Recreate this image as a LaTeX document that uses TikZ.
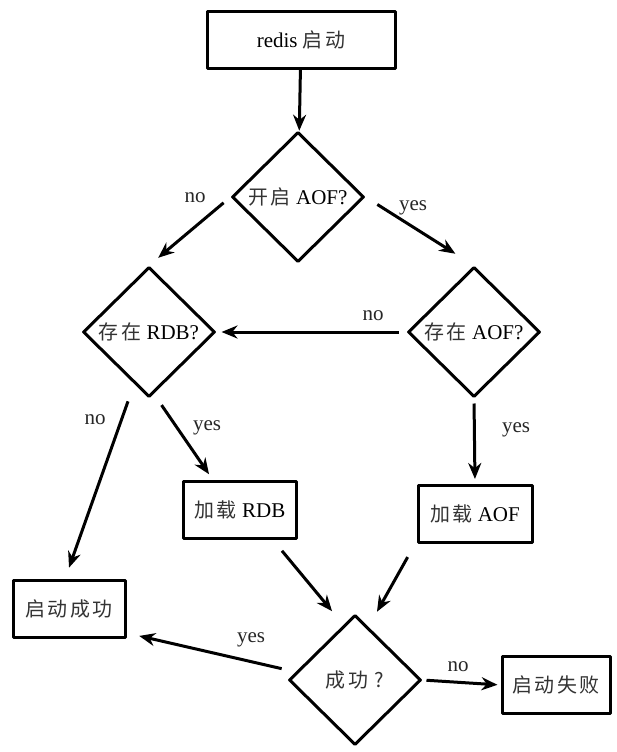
\documentclass[tikz,border=0pt]{standalone}
\usepackage{fontspec}
\setmainfont{Liberation Serif}
\newfontfamily\cjk[Scale=0.95,LetterSpace=12]{Noto Sans CJK SC}
\usepackage{tikz}
\usetikzlibrary{shapes.geometric}
\usetikzlibrary{arrows.meta}
\newcommand{\zh}[1]{{\cjk\color{black!80}#1}}

\tikzset{
  box/.style={draw, line width=3pt, minimum width=#1, minimum height=57pt, inner sep=0pt},
  box/.default=112pt,
  decision/.style={diamond, draw, line width=3pt, minimum width=132pt, minimum height=130pt, inner sep=0pt},
  flow/.style={->, line width=3pt},
  lbl/.style={inner sep=0pt, text=black!85}
}

\begin{document}
\begin{tikzpicture}[x=1pt,y=-1pt,
    font=\fontsize{21}{25}\selectfont,
    >={Stealth[length=16pt,width=13pt]},
    line join=round]
       \useasboundingbox (0,0) rectangle (617,752);
       % nodes
       \node[box=188pt] (start) at (301,40) {redis \zh{启动}};
       \node[decision] (aof) at (298,197) {\zh{开启} AOF?};
       \node[decision] (hasrdb) at (149,332) {\zh{存在} RDB?};
       \node[decision] (hasaof) at (474,332) {\zh{存在} AOF?};
       \node[box=113pt] (loadrdb) at (240,510) {\zh{加载} RDB};
       \node[box=114pt] (loadaof) at (475,514) {\zh{加载} AOF};
       \node[box=112pt] (ok) at (69,609) {\zh{启动成功}};
       \node[decision] (done) at (355,680) {\zh{成功 ?}};
       \node[box=108pt] (fail) at (556,685) {\zh{启动失败}};
       % connectors
       \draw[flow,shorten >=1pt] (start) -- (aof);
       \draw[flow,shorten <=9pt,shorten >=12pt] (aof.west) -- (hasrdb.north);
       \draw[flow,shorten <=14pt,shorten >=22pt] (aof.east) -- (hasaof.north);
       \draw[flow,shorten <=8pt,shorten >=5pt] (hasaof.west) -- (hasrdb.east);
       \draw[flow,shorten <=3pt,shorten >=12pt] ([xshift=-20pt]hasrdb.south) -- ([xshift=-4pt]ok.north);
       \draw[flow,shorten <=8pt,shorten >=7pt] ([xshift=8pt]hasrdb.south) -- ([xshift=-27pt]loadrdb.north);
       \draw[flow,shorten <=5pt,shorten >=5pt] (hasaof.south) -- (loadaof.north);
       \draw[flow,shorten <=14pt,shorten >=3pt] ([xshift=33pt]loadrdb.south) -- ([xshift=-21pt]done.north);
       \draw[flow,shorten <=15pt,shorten >=2pt] ([xshift=-60pt]loadaof.south) -- ([xshift=21pt]done.north);
       \draw[flow,shorten <=6pt,shorten >=13pt] ([yshift=10pt]done.west) -- ([yshift=6pt]ok.south east);
       \draw[flow,shorten <=4pt,shorten >=3pt] (done.east) -- (fail.west);
       % labels
       \node[lbl] (no1) at (195,198) {no};
       \node[lbl] (yes1) at (413,208) {yes};
       \node[lbl] (no2) at (373,316) {no};
       \node[lbl] (no3) at (95,420) {no};
       \node[lbl] (yes2) at (207,428) {yes};
       \node[lbl] (yes3) at (516,430) {yes};
       \node[lbl] (yes4) at (251,640) {yes};
       \node[lbl] (no4) at (458,667) {no};
\end{tikzpicture}
\end{document}
